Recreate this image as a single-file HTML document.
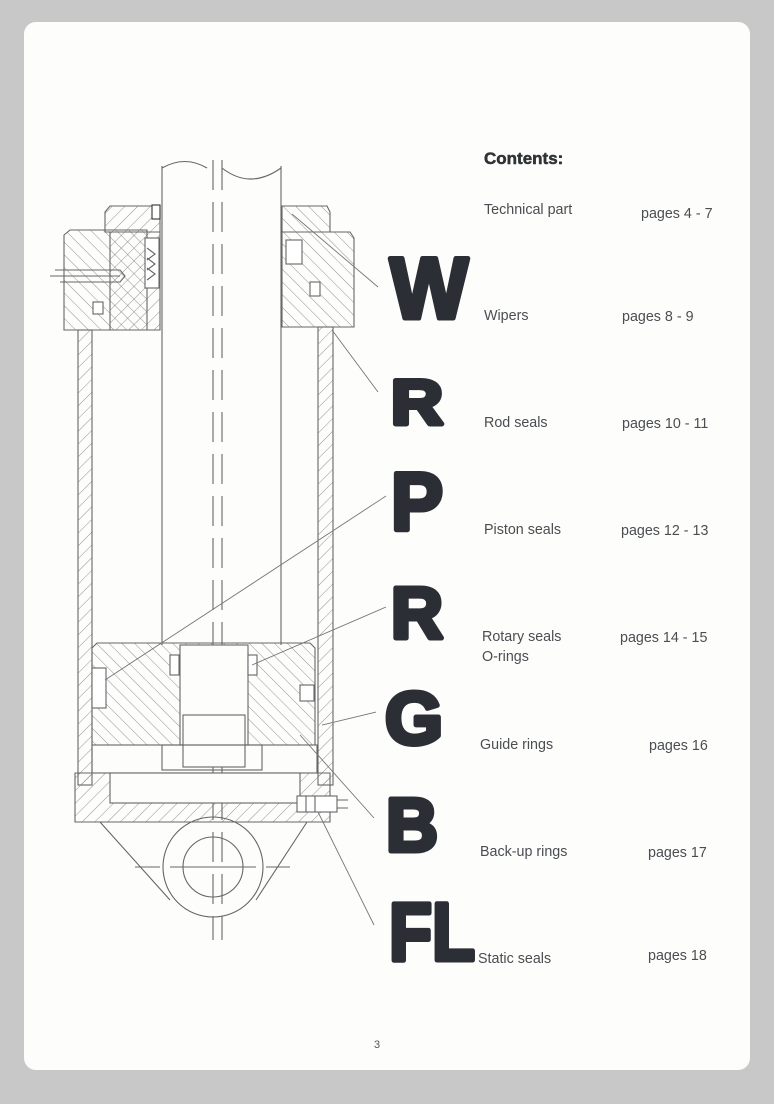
<!DOCTYPE html>
<html><head><meta charset="utf-8"><style>
html,body{margin:0;padding:0;background:#c8c8c8;width:774px;height:1104px;overflow:hidden}
.page{position:absolute;left:24px;top:22px;width:726px;height:1048px;background:#fdfdfb;border-radius:12px}
svg{position:absolute;left:0;top:0}
.t{font-family:"Liberation Sans",sans-serif;font-size:14.3px;fill:#4a4d52}
.big{font-family:"Liberation Sans",sans-serif;font-weight:bold;fill:#2b2f35;stroke:#2b2f35;stroke-width:5;stroke-linejoin:round}
</style></head><body>
<div class="page"></div>
<svg width="774" height="1104" viewBox="0 0 774 1104">
<defs>
<pattern id="h" patternUnits="userSpaceOnUse" width="9" height="9" patternTransform="rotate(45)"><line x1="0" y1="0" x2="0" y2="9" stroke="#777" stroke-width="0.8"/></pattern>
<pattern id="h2" patternUnits="userSpaceOnUse" width="9" height="9" patternTransform="rotate(-45)"><line x1="0" y1="0" x2="0" y2="9" stroke="#777" stroke-width="0.8"/></pattern>
</defs>
<g stroke="#666" stroke-width="1.1" fill="none">
<path d="M105,212 L110,206 L160,206 L160,232 L105,232Z" fill="url(#h)"/>
<path d="M282,206 L327,206 L330,212 L330,232 L282,232Z" fill="url(#h2)"/>
<path d="M64,235 L70,230 L147,230 L147,330 L64,330Z" fill="url(#h2)"/>
<path d="M110,232 L160,232 L160,330 L110,330Z" fill="url(#h)"/>
<path d="M282,232 L350,232 L354,238 L354,327 L282,327Z" fill="url(#h2)"/>
<rect x="145" y="238" width="14" height="50" fill="#fff"/>
<path d="M147,248 l8,6 l-8,6 M147,258 l8,6 l-8,6 M147,268 l8,6 l-8,6"/>
<rect x="286" y="240" width="16" height="24" fill="#fff"/>
<rect x="310" y="282" width="10" height="14" fill="#fff"/>
<rect x="93" y="302" width="10" height="12" fill="#fff"/>
<rect x="152" y="205" width="8" height="14" fill="#fff" stroke="#333"/>
<path d="M50,276 L120,276 M55,270 L120,270 L125,276 L120,282 L60,282"/>
<rect x="78" y="330" width="14" height="455" fill="url(#h)"/>
<rect x="318" y="327" width="15" height="458" fill="url(#h)"/>
<path d="M162,166 L162,645 M281,166 L281,645"/>
<path d="M162,168 Q185,155 207,168 M222,168 Q250,190 281,168"/>
<path d="M213,160 L213,940 M222,160 L222,940" stroke-dasharray="30,12"/>
<path d="M92,648 L97,643 L310,643 L315,648 L315,745 L92,745Z" fill="url(#h2)"/>
<rect x="180" y="645" width="68" height="100" fill="#fdfdfb"/>
<rect x="183" y="715" width="62" height="52" fill="#fdfdfb"/>
<rect x="170" y="655" width="9" height="20" fill="#fff"/>
<rect x="248" y="655" width="9" height="20" fill="#fff"/>
<rect x="92" y="668" width="14" height="40" fill="#fff"/>
<rect x="300" y="685" width="14" height="16" fill="#fff"/>
<rect x="92" y="745" width="225" height="28"/>
<rect x="162" y="745" width="100" height="25"/>
<path d="M75,773 L330,773 L330,822 L75,822Z" fill="url(#h)"/>
<rect x="110" y="773" width="190" height="30" fill="#fdfdfb"/>
<rect x="297" y="796" width="40" height="16" fill="#fff"/>
<path d="M337,800 L348,800 M337,808 L348,808 M306,796 L306,812 M315,796 L315,812"/>
<path d="M100,822 L170,900 M307,822 L256,900"/>
<circle cx="213" cy="867" r="50"/>
<circle cx="213" cy="867" r="30"/>
<path d="M135,867 L160,867 M170,867 L256,867 M266,867 L290,867"/>
</g>
<g stroke="#777" stroke-width="0.9">
<line x1="378" y1="287" x2="292" y2="214"/>
<line x1="378" y1="392" x2="332" y2="330"/>
<line x1="386" y1="496" x2="105" y2="680"/>
<line x1="386" y1="607" x2="252" y2="665"/>
<line x1="376" y1="712" x2="322" y2="725"/>
<line x1="374" y1="818" x2="300" y2="735"/>
<line x1="374" y1="925" x2="318" y2="812"/>
</g>
<text x="484" y="164" font-family="Liberation Sans,sans-serif" font-weight="bold" font-size="17" fill="#2f3338" stroke="#2f3338" stroke-width="0.5">Contents:</text>
<text class="t" x="484" y="214">Technical part</text><text class="t" x="641" y="218">pages  4 - 7</text>
<text class="t" x="484" y="320">Wipers</text><text class="t" x="622" y="321">pages   8 - 9</text>
<text class="t" x="484" y="427">Rod seals</text><text class="t" x="622" y="428">pages  10 - 11</text>
<text class="t" x="484" y="534">Piston seals</text><text class="t" x="621" y="535">pages 12 - 13</text>
<text class="t" x="482" y="641">Rotary seals</text><text class="t" x="482" y="661">O-rings</text><text class="t" x="620" y="642">pages 14 - 15</text>
<text class="t" x="480" y="749">Guide rings</text><text class="t" x="649" y="750">pages  16</text>
<text class="t" x="480" y="856">Back-up rings</text><text class="t" x="648" y="857">pages  17</text>
<text class="t" x="478" y="963">Static seals</text><text class="t" x="648" y="960">pages  18</text>
<text x="374" y="1048" font-family="Liberation Sans,sans-serif" font-size="11" fill="#555">3</text>
<text class="big" x="390" y="318" font-size="86" textLength="78" lengthAdjust="spacingAndGlyphs">W</text>
<text class="big" x="391" y="424" font-size="63" textLength="52" lengthAdjust="spacingAndGlyphs">R</text>
<text class="big" x="391" y="530" font-size="82" textLength="52" lengthAdjust="spacingAndGlyphs">P</text>
<text class="big" x="391" y="638" font-size="72" textLength="52" lengthAdjust="spacingAndGlyphs">R</text>
<text class="big" x="385" y="744" font-size="74" textLength="58" lengthAdjust="spacingAndGlyphs">G</text>
<text class="big" x="386" y="851" font-size="75" textLength="52" lengthAdjust="spacingAndGlyphs">B</text>
<text class="big" x="389" y="960" font-size="82" textLength="86" lengthAdjust="spacingAndGlyphs">FL</text>
</svg>
</body></html>
